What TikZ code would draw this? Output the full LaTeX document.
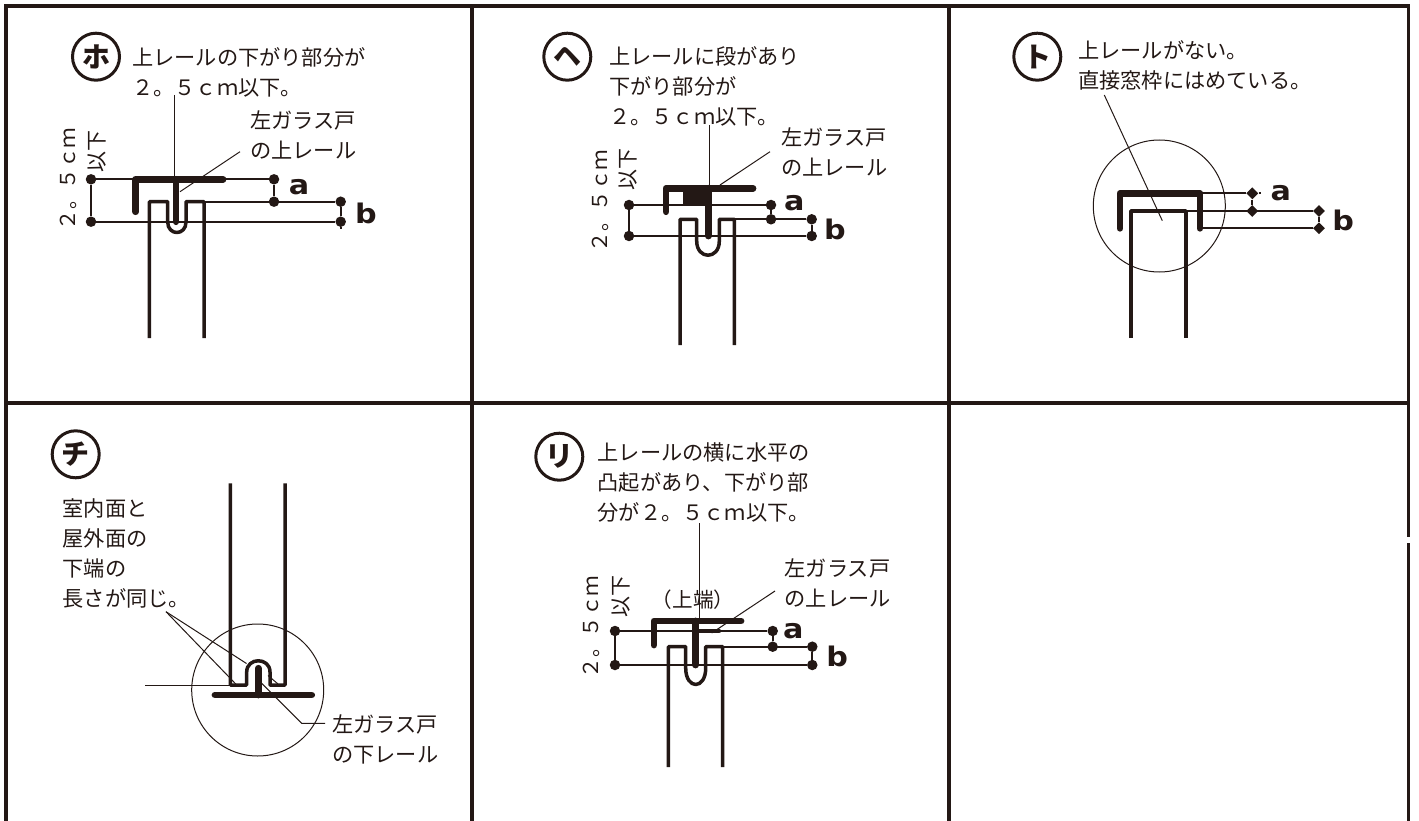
\documentclass[tikz,border=0pt]{standalone}
\usepackage{fontspec}
\newfontfamily\cjk{Noto Sans CJK JP}
\newfontfamily\latinbold[FakeStretch=1.12]{DejaVu Sans Bold}
\usetikzlibrary{shapes.geometric}
\definecolor{ink}{HTML}{231815}
\tikzstyle{grid_line} = [line width=3.8pt, color=ink]
\tikzstyle{rail} = [line width=6.8pt, line cap=round, line join=round, color=ink]
\tikzstyle{glass} = [line width=3.5pt, line join=round, color=ink]
\tikzstyle{dim} = [line width=2pt, color=ink]
\tikzstyle{leader} = [line width=1pt, color=ink]
\tikzstyle{ring} = [line width=1pt, color=ink]
\tikzstyle{dimdot} = [circle, fill=ink, minimum size=10.5pt, inner sep=0pt]
\tikzstyle{dimdia} = [diamond, fill=ink, minimum size=12pt, inner sep=0pt]
\tikzstyle{note} = [anchor=west, align=left, inner sep=0pt, text=ink, font=\cjk\fontsize{21.2}{30}\selectfont]
\tikzstyle{sidenote} = [inner sep=0pt, text=ink, rotate=90, font=\cjk\fontsize{20.6}{24}\selectfont]
\tikzstyle{sideshort} = [inner sep=0pt, text=ink, rotate=90, font=\cjk\fontsize{21}{24}\selectfont]
\tikzstyle{dimlabel} = [inner sep=0pt, text=ink, font=\latinbold\fontsize{27}{27}\selectfont]
\tikzstyle{mark_kana} = [circle, draw=ink, line width=3pt, minimum size=47pt, inner sep=0pt, text=ink, font=\cjk\bfseries\fontsize{28}{28}\selectfont]

\begin{document}
\begin{tikzpicture}[x=1pt, y=-1pt]
    \useasboundingbox (0,0) rectangle (1419,821);
    % frame
    \draw [grid_line] (6,821) -- (6,6) -- (1408.5,6) -- (1408.5,536.7);
    \draw [grid_line] (1408.5,543.3) -- (1408.5,821);
    \draw [grid_line] (6,403.3) -- (1408.5,403.3);
    \draw [grid_line] (471.7,6) -- (471.7,821);
    \draw [grid_line] (949,6) -- (949,821);

    % panel ho
    \node (markho) [mark_kana] at (96,56.7) {ホ};
    \node (noteho) [note] at (132,72.5) {上レールの下がり部分が\\２。５ｃｍ以下。};
    \node (railho) [note] at (250,134.5) {左ガラス戸\\の上レール};
    \node (sideho) [sidenote] at (68,179) {２。５ｃｍ};
    \node (shortho) [sideshort] at (96.7,151.7) {以下};
    \node (topl) [dimdot] at (91,179.3) {};
    \node (botl) [dimdot] at (91,221.7) {};
    \node (topa) [dimdot] at (274,179.3) {};
    \node (mida) [dimdot] at (274,201.7) {};
    \node (midb) [dimdot] at (340.7,201.7) {};
    \node (botb) [dimdot] at (340.7,221.7) {};
    \coordinate (glassho) at (204,201.7);
    \coordinate (noteendho) at (174,95);
    \coordinate (railtipho) at (174,179);
    \coordinate (railstartho) at (240,151.7);
    \coordinate (railendho) at (180,191.7);
    \node (labelaho) [dimlabel] at (299,187) {a};
    \node (labelbho) [dimlabel] at (366,213) {b};
    \draw [dim] (topl) -- (botl);
    \draw [dim] (topl) -- (topa);
    \draw [dim] (topa) -- (mida);
    \draw [dim] (glassho) -- (midb);
    \draw [dim] (midb) -- (botb);
    \draw [dim] (botb) -- ++(0,7);
    \draw [dim] (botl) -- (botb);
    \draw [glass] (149.3,338) -- (149.3,201.7) -- (167.7,201.7) -- (167.7,222) .. controls (167.7,236) and (186,236) .. (186,222) -- (186,201.7) -- (204,201.7) -- (204,338);
    \draw [rail] (135.7,211.7) -- (135.7,179.3) -- (223,179.3);
    \draw [rail] (176,179.3) -- (176,221.7);
    \draw [leader] (noteendho) -- (railtipho);
    \draw [leader] (railstartho) -- (railendho);

    % panel he
    \node (markhe) [mark_kana] at (567.3,56.7) {ヘ};
    \node (notehe) [note] at (609,86.3) {上レールに段があり\\下がり部分が\\２。５ｃｍ以下。};
    \node (railhe) [note] at (781,152) {左ガラス戸\\の上レール};
    \node (sidehe) [sidenote] at (600.7,201) {２。５ｃｍ};
    \node (shorthe) [sideshort] at (628.3,170) {以下};
    \node (toplhe) [dimdot] at (629,205) {};
    \node (botlhe) [dimdot] at (629,236) {};
    \node (topahe) [dimdot] at (771,205) {};
    \node (midahe) [dimdot] at (771,219.3) {};
    \node (midbhe) [dimdot] at (811.7,219.3) {};
    \node (botbhe) [dimdot] at (811.7,236) {};
    \coordinate (glasshe) at (734.3,219.3);
    \coordinate (noteendhe) at (709.3,125);
    \coordinate (railtiphe) at (709.3,186.7);
    \coordinate (railstarthe) at (770,151.7);
    \coordinate (railendhe) at (720,185);
    \node (labelahe) [dimlabel] at (794.3,203.3) {a};
    \node (labelbhe) [dimlabel] at (835,229) {b};
    \draw [dim] (toplhe) -- (botlhe);
    \draw [dim] (toplhe) -- (topahe);
    \draw [dim] (topahe) -- (midahe);
    \draw [dim] (glasshe) -- (midbhe);
    \draw [dim] (midbhe) -- (botbhe);
    \draw [dim] (botlhe) -- (botbhe);
    \draw [glass] (680,345) -- (680,219.3) -- (696.7,219.3) -- (696.7,241) .. controls (696.7,260) and (719.3,260) .. (719.3,241) -- (719.3,219.3) -- (734.3,219.3) -- (734.3,345);
    \fill [ink] (683.3,188.3) rectangle (711.7,205);
    \draw [rail] (666,211.7) -- (666,188.3) -- (753,188.3);
    \draw [rail] (708.3,188.3) -- (708.3,236);
    \draw [leader] (noteendhe) -- (railtiphe);
    \draw [leader] (railstarthe) -- (railendhe);

    % panel to
    \node (markto) [mark_kana] at (1037.3,56.7) {ト};
    \node (noteto) [note] at (1078,65.3) {上レールがない。\\直接窓枠にはめている。};
    \node (ringto) [circle, draw=ink, ring, minimum size=132pt, inner sep=0pt] at (1159.3,206) {};
    \node (topato) [dimdia] at (1252.3,193.3) {};
    \node (midato) [dimdia] at (1252.3,211) {};
    \node (midbto) [dimdia] at (1319,211) {};
    \node (botbto) [dimdia] at (1319,228.3) {};
    \coordinate (railtopto) at (1200,193.3);
    \coordinate (glassto) at (1186,211);
    \coordinate (railbotto) at (1200,228.3);
    \coordinate (noteendto) at (1104.3,95);
    \coordinate (railtipto) at (1162.3,220.7);
    \node (labelato) [dimlabel] at (1280.7,193.3) {a};
    \node (labelbto) [dimlabel] at (1343.3,220) {b};
    \draw [dim] (railtopto) -- (topato);
    \draw [dim] (topato) -- ++(9,0);
    \draw [dim] (topato) -- (midato);
    \draw [dim] (glassto) -- (midbto);
    \draw [dim] (midbto) -- (botbto);
    \draw [dim] (railbotto) -- (botbto);
    \draw [glass] (1131,338) -- (1131,211) -- (1186,211) -- (1186,338);
    \draw [rail] (1120,228.3) -- (1120,193.3) -- (1200,193.3) -- (1200,228.3);
    \draw [leader] (noteendto) -- (railtipto);

    % panel chi
    \node (markchi) [mark_kana] at (75.7,454.3) {チ};
    \node (notechi) [note] at (62.5,553) {室内面と\\屋外面の\\下端の\\長さが同じ。};
    \node (railchi) [note] at (332,739) {左ガラス戸\\の下レール};
    \node (ringchi) [circle, draw=ink, ring, minimum size=132pt, inner sep=0pt] at (257.7,690) {};
    \coordinate (forkchi) at (166,611.7);
    \coordinate (bendchi) at (301.7,723.3);
    \coordinate (freechi) at (145,685);
    \coordinate (wallchi) at (230.3,685);
    \coordinate (tipachi) at (236.7,685);
    \coordinate (tipbchi) at (246.5,663.5);
    \coordinate (tipcchi) at (268,675.5);
    \coordinate (tipdchi) at (278,684);
    \coordinate (stemchi) at (260,681.7);
    \coordinate (endchi) at (325,723.3);
    \draw [glass] (230.3,483.3) -- (230.3,685) -- (246.7,685) -- (246.7,672) .. controls (246.7,657) and (270,657) .. (270,672) -- (270,685) -- (285,685) -- (285,483.3);
    \draw [leader] (freechi) -- (wallchi);
    \draw [leader] (forkchi) -- (tipachi);
    \draw [leader] (forkchi) -- (tipbchi);
    \draw [leader] (tipcchi) -- (tipdchi);
    \draw [rail] (215,695) -- (311.7,695);
    \draw [rail] (258.3,695) -- (258.3,668.3);
    \draw [leader] (stemchi) -- (bendchi) -- (endchi);

    % panel ri
    \node (markri) [mark_kana] at (559.3,456.7) {リ};
    \node (noteri) [note] at (597.5,482) {上レールの横に水平の\\凸起があり、下がり部\\分が２。５ｃｍ以下。};
    \node (railri) [note] at (784.5,583.3) {左ガラス戸\\の上レール};
    \node (capri) [inner sep=0pt, text=ink, font=\cjk\fontsize{20.6}{24}\selectfont] at (693,600) {（上端）};
    \node (sideri) [sidenote] at (591,627) {２。５ｃｍ};
    \node (shortri) [sideshort] at (620.7,596.7) {以下};
    \node (toplri) [dimdot] at (615,631) {};
    \node (botlri) [dimdot] at (615,665) {};
    \node (topari) [dimdot] at (772.7,631) {};
    \node (midari) [dimdot] at (772.7,646.7) {};
    \node (midbri) [dimdot] at (812.3,646.7) {};
    \node (botbri) [dimdot] at (812.3,665) {};
    \coordinate (glassri) at (722.7,646.7);
    \coordinate (noteendri) at (699,523.3);
    \coordinate (railtipri) at (699,620);
    \coordinate (railstartri) at (775,591);
    \coordinate (railendri) at (711.7,633);
    \node (labelari) [dimlabel] at (793.3,631) {a};
    \node (labelbri) [dimlabel] at (837.3,656.7) {b};
    \draw [dim] (toplri) -- (botlri);
    \draw [dim] (toplri) -- (topari);
    \draw [dim] (topari) -- (midari);
    \draw [dim] (glassri) -- (midbri);
    \draw [dim] (midbri) -- (botbri);
    \draw [dim] (botlri) -- (botbri);
    \draw [glass] (668.3,767) -- (668.3,646.7) -- (685.7,646.7) -- (685.7,668) .. controls (685.7,690) and (705.7,690) .. (705.7,668) -- (705.7,646.7) -- (722.7,646.7) -- (722.7,767);
    \draw [rail] (654,645) -- (654,621) -- (741,621);
    \draw [rail] (695.7,621) -- (695.7,665);
    \draw [rail, line width=4.5pt] (695.7,631) -- (719,631);
    \draw [leader] (noteendri) -- (railtipri);
    \draw [leader] (railstartri) -- (railendri);
\end{tikzpicture}
\end{document}
